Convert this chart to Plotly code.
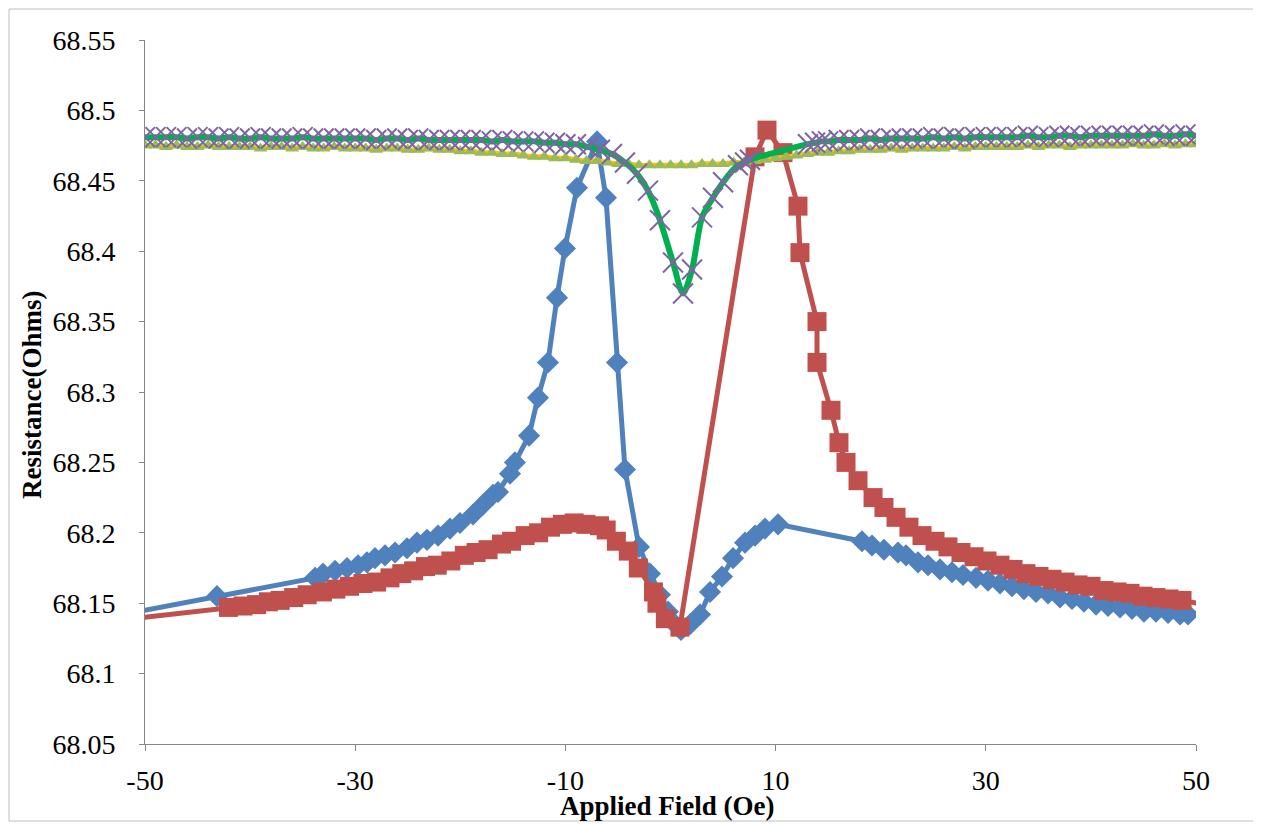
import plotly.graph_objects as go

# ---------------- data ----------------
blue_field = [-57.0, -43.15, -33.82, -33.06, -31.92, -30.78, -29.73, -28.88, -28.12, -27.16,
              -26.21, -25.07, -24.12, -23.17, -22.12, -20.98, -20.03, -18.79, -17.84, -16.89,
              -16.41, -15.27, -14.80, -13.46, -12.61, -11.66, -10.80, -10.04, -8.90, -6.99,
              -6.14, -5.09, -4.33, -3.00, -1.95, -1.00, -0.24, 0.43,
              1.00, 1.86, 2.81, 3.76, 4.90, 5.95, 7.09, 8.04, 8.99, 10.23,
              18.22, 19.17, 20.31, 21.65, 22.41, 23.55, 24.50, 25.64, 26.78, 27.83,
              29.07, 30.21, 31.35, 32.49, 33.63, 34.78, 35.92, 37.06, 38.20, 39.34,
              40.49, 41.63, 42.77, 43.91, 45.05, 46.19, 47.34, 48.48, 49.24, 52.0]
blue_res = [68.135, 68.155, 68.168, 68.171, 68.173, 68.175, 68.177, 68.179, 68.182, 68.184,
            68.186, 68.189, 68.193, 68.195, 68.198, 68.203, 68.207, 68.213, 68.220, 68.227,
            68.229, 68.242, 68.250, 68.269, 68.296, 68.321, 68.367, 68.402, 68.445, 68.478,
            68.438, 68.321, 68.245, 68.190, 68.171, 68.156, 68.144, 68.135,
            68.131, 68.135, 68.142, 68.158, 68.169, 68.182, 68.193, 68.198, 68.203, 68.206,
            68.194, 68.191, 68.188, 68.186, 68.184, 68.179, 68.177, 68.174, 68.172, 68.170,
            68.168, 68.166, 68.164, 68.162, 68.160, 68.158, 68.157, 68.154, 68.153, 68.151,
            68.149, 68.148, 68.147, 68.146, 68.144, 68.144, 68.143, 68.142, 68.142, 68.145]

red_field = [-57.0, -42.06, -40.68, -39.38, -38.26, -37.14, -35.85, -34.57, -33.12, -31.84,
             -30.54, -29.26, -27.97, -26.69, -25.57, -24.44, -23.31, -22.19, -20.90, -19.62,
             -18.50, -17.36, -16.08, -15.12, -13.83, -12.55, -11.42, -10.29, -9.17, -8.05,
             -6.75, -6.12, -5.15, -4.02, -3.06, -1.62, -1.29, -0.49, 0.90,
             8.04, 9.18, 10.70, 12.13, 12.32, 13.94, 13.94, 15.27, 16.03, 16.70, 17.84,
             19.27, 20.31, 21.46, 22.69, 23.93, 25.17, 26.40, 27.64, 28.88, 30.11,
             31.35, 32.59, 33.82, 35.06, 36.30, 37.54, 38.77, 40.01, 41.25, 42.48,
             43.72, 44.96, 46.19, 47.43, 48.67, 53.0]
red_res = [68.134, 68.147, 68.148, 68.149, 68.151, 68.152, 68.154, 68.156, 68.158, 68.160,
           68.162, 68.164, 68.165, 68.168, 68.171, 68.173, 68.176, 68.177, 68.180, 68.184,
           68.186, 68.188, 68.192, 68.194, 68.198, 68.200, 68.204, 68.206, 68.207, 68.206,
           68.205, 68.202, 68.194, 68.187, 68.175, 68.158, 68.150, 68.139, 68.133,
           68.467, 68.486, 68.470, 68.432, 68.399, 68.350, 68.321, 68.287, 68.264, 68.250, 68.237,
           68.225, 68.218, 68.211, 68.204, 68.198, 68.194, 68.190, 68.186, 68.183, 68.180,
           68.177, 68.174, 68.171, 68.169, 68.167, 68.165, 68.163, 68.162, 68.159, 68.158,
           68.157, 68.155, 68.154, 68.153, 68.152, 68.146]

tri_field = [-50, -49, -48, -47, -46, -45, -44, -43, -42, -41, -40, -39, -38, -37, -36,
             -35, -34, -33, -32, -31, -30, -29, -28, -27, -26, -25, -24, -23, -22, -21,
             -20, -19, -18, -17, -16, -15, -14, -13, -12, -11, -10, -9, -8, -7, -6,
             -5, -4, -3, -2, -1, 0, 1, 2, 3, 4, 5, 6, 7, 8, 9,
             10, 11, 12, 13, 14, 15, 16, 17, 18, 19, 20, 21, 22, 23, 24,
             25, 26, 27, 28, 29, 30, 31, 32, 33, 34, 35, 36, 37, 38, 39,
             40, 41, 42, 43, 44, 45, 46, 47, 48, 49, 50]
tri_res = [68.475, 68.475, 68.474, 68.475, 68.474, 68.474, 68.475, 68.474, 68.474, 68.474,
           68.474, 68.473, 68.474, 68.474, 68.473, 68.474, 68.473, 68.473, 68.474, 68.473,
           68.473, 68.473, 68.472, 68.473, 68.473, 68.472, 68.472, 68.473, 68.472, 68.472,
           68.471, 68.471, 68.470, 68.470, 68.469, 68.469, 68.468, 68.467, 68.467, 68.466,
           68.466, 68.465, 68.464, 68.464, 68.463, 68.462, 68.462, 68.461, 68.461, 68.461,
           68.461, 68.461, 68.461, 68.462, 68.462, 68.462, 68.463, 68.463, 68.464, 68.465,
           68.466, 68.467, 68.468, 68.469, 68.470, 68.470, 68.471, 68.471, 68.472, 68.472,
           68.472, 68.473, 68.472, 68.473, 68.473, 68.473, 68.473, 68.474, 68.473, 68.474,
           68.474, 68.474, 68.474, 68.474, 68.475, 68.474, 68.475, 68.475, 68.474, 68.475,
           68.475, 68.475, 68.475, 68.475, 68.476, 68.475, 68.475, 68.476, 68.475, 68.476,
           68.476]

x_field = [-50, -49, -48, -47, -46, -45, -44, -43, -42, -41, -40, -39, -38, -37, -36,
           -35, -34, -33, -32, -31, -30, -29, -28, -27, -26, -25, -24, -23, -22, -21,
           -20, -19, -18, -17, -16, -15, -14, -13, -12, -11, -10, -9,
           -7.85, -6.71, -5.57, -4.33, -3.19, -2.14, -1.00, 0.24, 1.19, 2.05, 3.00, 4.04,
           5.00, 6.42, 7.09, 7.56,
           13.08, 13.75, 14.4, 15, 16, 17, 18, 19, 20, 21, 22, 23, 24, 25, 26, 27, 28, 29,
           30, 31, 32, 33, 34, 35, 36, 37, 38, 39, 40, 41, 42, 43, 44, 45, 46, 47, 48, 49, 50]
x_res = [68.481, 68.481, 68.481, 68.481, 68.480, 68.481, 68.481, 68.480, 68.481, 68.480,
         68.480, 68.481, 68.480, 68.480, 68.480, 68.481, 68.480, 68.480, 68.480, 68.480,
         68.480, 68.480, 68.479, 68.480, 68.480, 68.479, 68.480, 68.479, 68.479, 68.479,
         68.479, 68.479, 68.479, 68.478, 68.479, 68.478, 68.478, 68.478, 68.477, 68.477,
         68.476, 68.476,
         68.474, 68.472, 68.469, 68.463, 68.455, 68.443, 68.422, 68.392, 68.370, 68.387,
         68.424, 68.438, 68.449, 68.461, 68.463, 68.465,
         68.476, 68.477, 68.478,
         68.478, 68.479, 68.479, 68.479, 68.480, 68.479, 68.480, 68.480, 68.480, 68.480,
         68.481, 68.480, 68.481, 68.480, 68.481, 68.481, 68.481, 68.481, 68.481, 68.482,
         68.481, 68.481, 68.482, 68.482, 68.481, 68.482, 68.482, 68.482, 68.482, 68.482,
         68.482, 68.483, 68.482, 68.482, 68.483, 68.482]

x_tick_vals = [-50, -30, -10, 10, 30, 50]
x_tick_text = ["-50", "-30", "-10", "10", "30", "50"]
y_tick_vals = [68.05, 68.1, 68.15, 68.2, 68.25, 68.3, 68.35, 68.4, 68.45, 68.5, 68.55]
y_tick_text = ["68.05", "68.1", "68.15", "68.2", "68.25", "68.3", "68.35", "68.4", "68.45", "68.5", "68.55"]

x_title = "Applied Field (Oe)"
y_title = "Resistance(Ohms)"

# ---------------- figure ----------------
fig = go.Figure()

fig.add_trace(go.Scatter(
    x=blue_field, y=blue_res, mode="lines+markers",
    line=dict(color="#4F81BD", width=5),
    marker=dict(symbol="diamond", size=17, color="#4F81BD"),
))
fig.add_trace(go.Scatter(
    x=red_field, y=red_res, mode="lines+markers",
    line=dict(color="#C0504D", width=5),
    marker=dict(symbol="square", size=19, color="#C0504D"),
))
fig.add_trace(go.Scatter(
    x=tri_field, y=tri_res, mode="lines+markers",
    line=dict(color="#FFC000", width=5, shape="spline", smoothing=0.8),
    marker=dict(symbol="triangle-up", size=12, color="#9BBB59"),
))
fig.add_trace(go.Scatter(
    x=x_field, y=x_res, mode="lines+markers",
    line=dict(color="#00B050", width=6, shape="spline", smoothing=0.8),
    marker=dict(symbol="x-thin", size=20, color="#8064A2",
                line=dict(color="#8064A2", width=2)),
))

tick_font = dict(family="Liberation Serif", size=28, color="black")
title_font = dict(family="Liberation Serif", size=27, color="black")

fig.update_xaxes(
    range=[-50, 50], tickvals=x_tick_vals, ticktext=x_tick_text, automargin=False,
    showgrid=False, zeroline=False, showline=True, linecolor="#868686", linewidth=1,
    ticks="outside", ticklen=6, tickcolor="#868686", tickwidth=1,
    tickfont=tick_font, ticklabelstandoff=5,
)
fig.update_yaxes(
    range=[68.05, 68.55], tickvals=y_tick_vals, ticktext=y_tick_text, automargin=False,
    showgrid=False, zeroline=False, showline=True, linecolor="#868686", linewidth=1,
    ticks="outside", ticklen=5, tickcolor="#868686", tickwidth=1,
    tickfont=tick_font, ticklabelstandoff=18,
)

fig.add_annotation(
    x=0.4976, y=-0.088, xref="paper", yref="paper", text="<b>%s</b>" % x_title,
    showarrow=False, xanchor="center", yanchor="middle", font=title_font,
)
fig.add_annotation(
    x=-0.1075, y=0.4957, xref="paper", yref="paper", text="<b>%s</b>" % y_title,
    showarrow=False, xanchor="center", yanchor="middle", textangle=-90, font=title_font,
)

# outer chart border
fig.add_shape(type="rect", xref="paper", yref="paper",
              x0=-0.1294, x1=1.0571, y0=-0.1094, y1=1.0440,
              line=dict(color="#BFBFBF", width=1), layer="below")

# the page body has an 8px margin, so the margins are reduced by 8px to
# place the plot area where it sits in the reference
fig.update_layout(
    width=1261, height=825,
    margin=dict(l=137, r=73, t=32, b=89, autoexpand=False),
    plot_bgcolor="white", paper_bgcolor="white",
    showlegend=False,
)

fig.write_html("out.html")
